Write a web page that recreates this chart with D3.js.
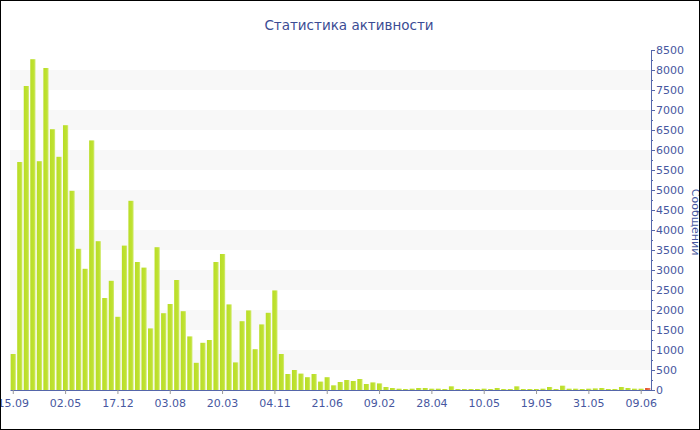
<!DOCTYPE html>
<html><head><meta charset="utf-8">
<script src="https://cdn.jsdelivr.net/npm/d3@7"></script>
<style>html,body{margin:0;padding:0;background:#fff}svg{display:block}</style>
</head><body>
<svg id="chart" width="700" height="430"></svg>
<script>
const title = "Статистика активности";
const axisTitle = "Сообщений";
const values = [900,5700,7600,8270,5720,8050,6520,5830,6620,4980,3530,3030,6240,3720,2300,2730,1830,3610,4730,3200,3060,1540,3570,1920,2150,2750,1970,1340,680,1180,1250,3200,3400,2140,690,1720,1990,1020,1640,1930,2490,900,400,500,410,320,400,210,320,117,200,250,225,275,150,190,165,75,50,33,25,33,50,50,33,33,25,92,25,25,25,25,33,25,50,25,25,92,25,25,25,33,75,25,108,33,33,25,33,40,50,25,25,75,50,33,33,50];
const tickLabels = ["15.09","02.05","17.12","03.08","20.03","04.11","21.06","09.02","28.04","10.05","19.05","31.05","09.06"];
const labelEvery = 8;
const yTicks = d3.range(0, 8501, 500);

(function(){
const svg = d3.select("#chart");
const W = 700, H = 430;
const mLeft = 10, mRight = 651, mTop = 50, mBottom = 390;
const txt = "#4757a0";

const x = d3.scaleBand().domain(d3.range(values.length)).range([mLeft, mRight]).paddingInner(0.2).paddingOuter(0.1);
const y = d3.scaleLinear().domain([0, 8500]).range([mBottom, mTop]);

const defs = svg.append("defs");
const g1 = defs.append("linearGradient").attr("id","gb").attr("x1","0").attr("x2","1").attr("y1","0").attr("y2","0");
g1.append("stop").attr("offset","0").attr("stop-color","#b9dd26");
g1.append("stop").attr("offset","0.7").attr("stop-color","#bfe232");
g1.append("stop").attr("offset","1").attr("stop-color","#d6ec80");
const g2 = defs.append("linearGradient").attr("id","gr").attr("x1","0").attr("x2","1").attr("y1","0").attr("y2","0");
g2.append("stop").attr("offset","0").attr("stop-color","#e04a1c");
g2.append("stop").attr("offset","1").attr("stop-color","#f08060");

svg.append("rect").attr("x",0).attr("y",0).attr("width",W).attr("height",H).attr("fill","#fff");

const bandStarts = d3.range(500, 8000, 1000);
svg.append("g").selectAll("rect").data(bandStarts).join("rect")
  .attr("x", mLeft).attr("width", mRight - mLeft)
  .attr("y", d => y(d + 500)).attr("height", d => y(d) - y(d + 500))
  .attr("fill", "#f8f8f8");

svg.append("g").selectAll("rect").data(values).join("rect")
  .attr("x", (d,i) => x(i)).attr("width", x.bandwidth())
  .attr("y", d => y(d)).attr("height", d => y(0) - y(d))
  .attr("fill", (d,i) => i === values.length - 1 ? "url(#gr)" : "url(#gb)");

const xAxis = d3.axisBottom(x)
  .tickValues(d3.range(0, values.length, labelEvery))
  .tickFormat((d) => tickLabels[d / labelEvery])
  .tickSize(4).tickSizeOuter(0);
const gx = svg.append("g").attr("transform", `translate(0,${mBottom})`).call(xAxis);
gx.select(".domain").attr("stroke", "#5566aa");
gx.selectAll(".tick line").attr("stroke", "#999");
gx.selectAll("text").attr("fill", txt).attr("font-family", "DejaVu Sans, Verdana, sans-serif").attr("font-size", "11px").attr("dy", "0.95em");

const gyMinor = svg.append("g").attr("transform", `translate(${mRight},0)`)
  .call(d3.axisRight(y).tickValues(d3.range(250, 8500, 500)).tickSize(2).tickFormat(""));
gyMinor.select(".domain").remove();
gyMinor.selectAll(".tick line").attr("stroke", "#5566aa");

const gy = svg.append("g").attr("transform", `translate(${mRight},0)`)
  .call(d3.axisRight(y).tickValues(yTicks).tickFormat(d3.format("d")).tickSize(4).tickSizeOuter(0).tickPadding(1));
gy.select(".domain").attr("stroke", "#5566aa");
gy.selectAll(".tick line").attr("stroke", "#5566aa");
gy.selectAll("text").attr("fill", txt).attr("font-family", "DejaVu Sans, Verdana, sans-serif").attr("font-size", "11px");

svg.append("text").attr("transform", `translate(692,222) rotate(90)`)
  .attr("text-anchor", "middle").attr("fill", txt)
  .attr("font-family", "DejaVu Sans, Verdana, sans-serif").attr("font-size", "11px")
  .text(axisTitle);

svg.append("text").attr("x", 349).attr("y", 30).attr("text-anchor", "middle")
  .attr("fill", "#3b4c94").attr("font-family", "DejaVu Sans, Verdana, sans-serif").attr("font-size", "13.5px")
  .text(title);

svg.append("rect").attr("x",0.5).attr("y",0.5).attr("width",W-1).attr("height",H-1).attr("fill","none").attr("stroke","#000");
})();
</script>
</body></html>
